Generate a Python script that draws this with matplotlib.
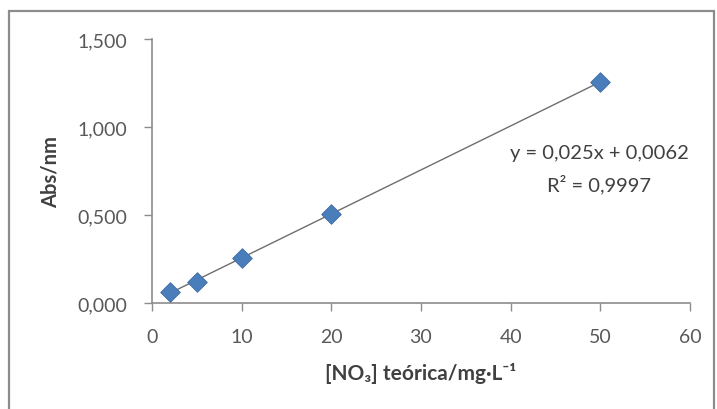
import matplotlib
matplotlib.use("Agg")
import matplotlib.pyplot as plt
from matplotlib.ticker import FuncFormatter
from matplotlib.patches import Rectangle
import numpy as np

plt.rcParams['font.family'] = ['Lato', 'DejaVu Sans']

# Calibration data: nitrate concentration (mg/L) vs absorbance
concentration = [2, 5, 10, 20, 50]
absorbance = [0.062, 0.118, 0.255, 0.503, 1.258]

# Linear fit as reported
slope = 0.025
intercept = 0.0062
r_squared = 0.9997

x_ticks = [0, 10, 20, 30, 40, 50, 60]
y_ticks = [0.0, 0.5, 1.0, 1.5]

W, H = 717, 410
fig = plt.figure(figsize=(W / 100, H / 100), dpi=100)
fig.patch.set_facecolor('white')

# chart area frame
frame = Rectangle((9 / W, -0.05), (714 - 9) / W, 1.05 - 12 / H,
                  transform=fig.transFigure, fill=False,
                  edgecolor='#8c8c8c', linewidth=1.6, zorder=0)
fig.patches.append(frame)

ax = fig.add_axes([152 / W, 1 - 304 / H, (690 - 152) / W, (304 - 40) / H])
ax.set_xlim(0, 60)
ax.set_ylim(0, 1.5)

xs = np.array([min(concentration), max(concentration)])
ax.plot(xs, slope * xs + intercept, color='#6e6e6e', linewidth=1.0, zorder=2)
ax.scatter(concentration, absorbance, marker='D', s=100, color='#4a7ebb',
           edgecolors='#3d6aa3', linewidths=0.6, zorder=3)

for side in ('top', 'right'):
    ax.spines[side].set_visible(False)
for side in ('left', 'bottom'):
    ax.spines[side].set_color('#8c8c8c')
    ax.spines[side].set_linewidth(1.2)

ax.set_xticks(x_ticks)
ax.set_yticks(y_ticks)
ax.yaxis.set_major_formatter(FuncFormatter(lambda v, p: f"{v:,.3f}".replace('.', ',')))
ax.tick_params(axis='both', direction='out', length=6, width=1.0, color='#8c8c8c',
               labelsize=14, labelcolor='#595959')
ax.tick_params(axis='y', pad=12)
ax.tick_params(axis='x', pad=12)

ax.set_ylabel('Abs/nm', fontsize=14.5, fontweight='bold', color='#404040', labelpad=12)
ax.set_xlabel('[NO₃] teórica/mg·L⁻¹', fontsize=15, fontweight='bold',
              color='#404040', labelpad=12)

eq = f"y = {slope:.3f}x + {intercept:.4f}".replace('.', ',')
r2 = f"R² = {r_squared:.4f}".replace('.', ',')
for label, ypix in ((eq, 154), (r2, 185)):
    fig.text(599 / W, 1 - ypix / H, label, fontsize=14.5, color='#404040',
             ha='center', va='center')

fig.savefig('out.png', dpi=100)
